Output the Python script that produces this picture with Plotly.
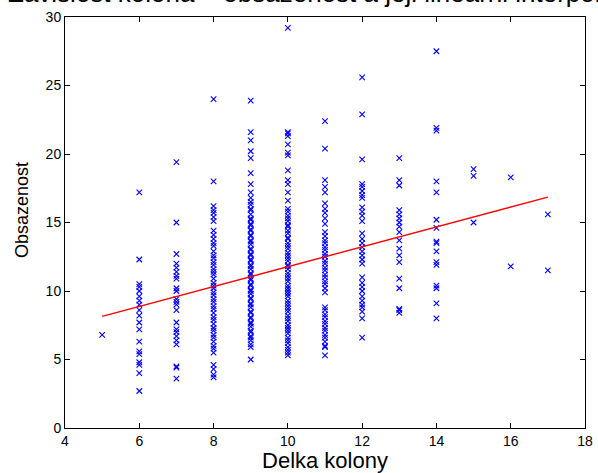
import plotly.graph_objects as go

# --- data ---
x5 = [6.8]
x6 = [17.2, 12.3, 10.5, 10.3, 10.0, 9.6, 9.3, 9.0, 8.6, 8.2, 7.7, 7.2, 6.3, 5.6, 5.4, 4.8, 4.6, 4.0, 2.7]
x7 = [19.4, 15.0, 12.7, 12.0, 11.7, 11.4, 11.1, 10.9, 10.2, 10.0, 9.4, 9.2, 9.0, 8.6, 7.7, 7.2, 7.0, 6.7, 6.4, 6.1, 4.5, 4.4, 3.6]
x8 = [24.0, 18.0, 16.2, 15.9, 15.7, 15.4, 15.1, 14.4, 14.1, 13.8, 13.5, 13.3, 12.9, 12.6, 12.4, 12.1,
      11.9, 11.6, 11.4, 11.2, 10.9, 10.6, 10.4, 10.2, 9.9, 9.7, 9.4, 9.2, 8.9, 8.7, 8.4, 8.1, 7.9,
      7.6, 7.3, 7.1, 6.8, 6.6, 6.3, 6.0, 5.8, 5.5, 4.6, 4.3, 3.9, 3.7]
x9 = [23.9, 21.6, 21.0, 20.2, 19.7, 18.6, 17.8, 17.2, 16.8, 16.5, 16.3, 16.0, 15.9, 15.6, 15.3, 15.2,
      14.9, 14.8, 14.5, 14.4, 14.1, 14.0, 13.7, 13.6, 13.4, 13.1, 13.0, 12.7, 12.6, 12.3, 12.2, 11.9,
      11.8, 11.6, 11.3, 11.2, 10.9, 10.8, 10.5, 10.4, 10.1, 10.0, 9.8, 9.5, 9.4, 9.1, 9.0, 8.8, 8.5,
      8.4, 8.1, 8.0, 7.7, 7.6, 7.4, 7.1, 7.0, 6.7, 6.6, 6.4, 6.1, 5.9, 5.0]
x10 = [29.2, 21.6, 21.5, 21.3, 20.7, 20.1, 19.9, 18.8, 18.1, 17.8, 17.2, 16.6, 16.0, 15.8, 15.5, 15.3,
       15.1, 14.8, 14.7, 14.4, 14.2, 13.9, 13.8, 13.5, 13.3, 13.1, 12.8, 12.6, 12.4, 12.2, 11.9, 11.8,
       11.6, 11.3, 11.1, 10.9, 10.7, 10.4, 10.2, 10.0, 9.8, 9.6, 9.3, 9.1, 8.9, 8.7, 8.5, 8.2, 8.0,
       7.8, 7.5, 7.3, 7.1, 6.9, 6.6, 6.4, 6.2, 5.9, 5.7, 5.5, 5.3]
x11 = [22.4, 20.4, 18.1, 17.6, 17.2, 16.4, 16.0, 15.7, 15.3, 14.9, 14.3, 14.0, 13.7, 13.5, 13.2, 13.0,
       12.7, 12.5, 12.2, 12.0, 11.7, 11.5, 11.2, 11.0, 10.7, 10.5, 10.2, 9.9, 8.8, 8.6, 8.3, 8.1, 7.8,
       7.6, 7.3, 7.1, 6.8, 6.6, 6.3, 6.0, 5.9, 5.3]
x12 = [25.6, 22.9, 19.6, 17.8, 17.6, 17.3, 17.0, 16.8, 16.1, 15.8, 15.5, 15.1, 14.2, 13.8, 13.5, 13.2,
       12.9, 12.6, 12.3, 12.0, 11.0, 10.6, 10.3, 10.0, 9.6, 9.3, 9.0, 8.8, 8.5, 8.0, 6.6]
x13 = [19.7, 18.1, 17.7, 15.9, 15.6, 15.3, 15.0, 14.7, 14.3, 13.7, 13.1, 12.6, 12.1, 10.9, 10.2, 8.7, 8.6, 8.4]
x14 = [27.5, 21.9, 21.7, 18.0, 17.2, 15.2, 14.6, 13.6, 13.5, 12.9, 12.1, 11.9, 10.4, 10.2, 9.1, 8.0]
x15 = [18.9, 18.4, 15.0]
x16 = [18.3, 11.8]
x17 = [15.6, 11.5]

columns = {5: x5, 6: x6, 7: x7, 8: x8, 9: x9, 10: x10, 11: x11, 12: x12,
           13: x13, 14: x14, 15: x15, 16: x16, 17: x17}

fit_x = [5, 17]
fit_y = [8.15, 16.85]

x_ticks = [4, 6, 8, 10, 12, 14, 16, 18]
y_ticks = [0, 5, 10, 15, 20, 25, 30]

title_text = "Zavislost kolona – obsazenost a jeji linearni interpolace"
x_label = "Delka kolony"
y_label = "Obsazenost"

FONT = "Arial, Liberation Sans, Helvetica, sans-serif"

xs, ys = [], []
for k, vals in columns.items():
    xs += [k] * len(vals)
    ys += vals

fig = go.Figure()
fig.add_trace(go.Scatter(
    x=xs, y=ys, mode="markers",
    marker=dict(symbol="x-thin", size=5.5, color="#0000ff",
                line=dict(width=1.1, color="#0000ff")),
    showlegend=False, hoverinfo="skip"))
fig.add_trace(go.Scatter(
    x=fit_x, y=fit_y, mode="lines",
    line=dict(color="#ff0000", width=1.4),
    showlegend=False, hoverinfo="skip"))

axis_common = dict(
    showgrid=False, zeroline=False, showline=True, linecolor="black", linewidth=1,
    mirror="ticks", ticks="inside", ticklen=5, tickcolor="black", automargin=False,
    tickfont=dict(family=FONT, size=14, color="black"),
)
fig.update_xaxes(range=[4, 18], tickvals=x_ticks, **axis_common,
                 title=dict(text=x_label, standoff=2,
                            font=dict(family=FONT, size=22, color="black")))
fig.update_yaxes(range=[0, 30], tickvals=y_ticks, **axis_common)

# plot area: 65..585 px horizontally, 17..428 px vertically
PLOT_L, PLOT_T, PLOT_W, PLOT_H = 65, 17, 520, 411

def px_to_paper(px, py):
    return (px - PLOT_L) / PLOT_W, 1 - (py - PLOT_T) / PLOT_H

tx, ty = px_to_paper(325, -6.5)
lx, ly = px_to_paper(22, 210)

fig.add_annotation(text=title_text, xref="paper", yref="paper", x=tx, y=ty,
                   xanchor="center", yanchor="middle", showarrow=False,
                   font=dict(family=FONT, size=26, color="black"))
fig.add_annotation(text=y_label, xref="paper", yref="paper", x=lx, y=ly,
                   xanchor="center", yanchor="middle", showarrow=False, textangle=-90,
                   font=dict(family=FONT, size=18, color="black"))

fig.update_layout(
    width=598, height=473,
    margin=dict(l=PLOT_L, r=598 - PLOT_L - PLOT_W, t=PLOT_T, b=473 - PLOT_T - PLOT_H, autoexpand=False),
    paper_bgcolor="white", plot_bgcolor="white",
)

fig.write_html("out.html", config={"displayModeBar": False},
               post_script="document.body.style.margin='0';")
